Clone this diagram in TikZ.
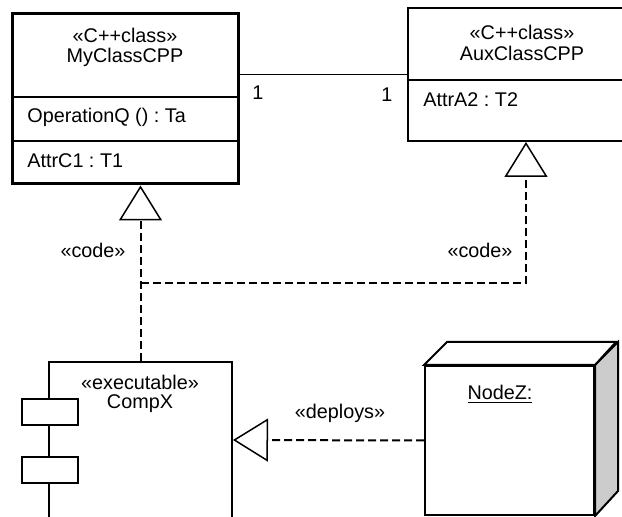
\documentclass[tikz,border=0pt]{standalone}
\usepackage{fontspec}
\setmainfont{Liberation Sans}
\usetikzlibrary{arrows.meta}
\definecolor{sidegray}{gray}{0.8}
\frenchspacing

\begin{document}
\begin{tikzpicture}[x=0.5pt, y=-0.5pt,
    font=\fontsize{9.9}{11}\selectfont,
    box/.style={draw, line width=1pt, fill=white, inner sep=0pt},
    lbl/.style={inner sep=0pt},
    realize/.style={line width=1pt, dash pattern=on 4pt off 2pt,
        -{Triangle[open, length=17.5pt, width=21.5pt, line width=0.75pt]}}]
    \useasboundingbox (0,0) rectangle (622,517);
    \clip (0,0) rectangle (622,517);

    % classes
    \node[box, line width=1.5pt, minimum width=113pt, minimum height=85pt] (myclass) at (125,99) {};
    \draw[line width=0.75pt] (myclass.west |- 0,97) -- (myclass.east |- 0,97);
    \draw[line width=0.75pt] (myclass.west |- 0,141) -- (myclass.east |- 0,141);
    \node[lbl] (mystereo) at (125,35) {«C++class»};
    \node[lbl] (myname) at (125,57) {MyClassCPP};
    \node[lbl, anchor=west] (myop) at (27,117) {OperationQ () : Ta};
    \node[lbl, anchor=west] (myattr) at (27,161) {AttrC1 : T1};

    \node[box, minimum width=114pt, minimum height=66.5pt] (auxclass) at (522,74.5) {};
    \draw[line width=0.75pt] (auxclass.west |- 0,80) -- (auxclass.east |- 0,80);
    \node[lbl] (auxstereo) at (522,32) {«C++class»};
    \node[lbl] (auxname) at (522,53) {AuxClassCPP};
    \node[lbl, anchor=west] (auxattr) at (423,100) {AttrA2 : T2};

    \draw[line width=0.75pt] (myclass.east |- auxclass.west) -- (auxclass.west);
    \node[lbl] (multmy) at (258,93) {1};
    \node[lbl] (multaux) at (387,95) {1};

    % component
    \node[box, minimum width=91.5pt, minimum height=78pt] (compx) at (140.5,440) {};
    \node[box, minimum width=28pt, minimum height=13pt] (portA) at (50,412) {};
    \node[box, minimum width=28pt, minimum height=13pt] (portB) at (50,470) {};
    \node[lbl] (compstereo) at (140,382) {«executable»};
    \node[lbl] (compname) at (140,404) {CompX};

    % node
    \node[box, minimum width=84.5pt, minimum height=74.5pt] (nodez) at (509.5,440.5) {};
    \draw[line width=1pt, fill=sidegray] (nodez.north east) -- ++(23,-23) -- ++(0,149) -- (nodez.south east) -- cycle;
    \draw[line width=1pt, fill=white] (nodez.north west) -- ++(23,-23) -- ++(169,0) -- (nodez.north east) -- cycle;
    \node[lbl] (nodezname) at (500,394) {\underline{NodeZ:}};

    % dependencies
    \coordinate (fork) at (140.5,283);
    \draw[realize] (compx.north) -- (compx.north |- myclass.south);
    \draw[realize] (fork) -| ([xshift=2pt]auxclass.south);
    \draw[realize] (nodez.west) -- (compx.east);
    \node[lbl] (codemy) at (93,250) {«code»};
    \node[lbl] (codeaux) at (480,250) {«code»};
    \node[lbl] (deploys) at (340,413) {«deploys»};
\end{tikzpicture}
\end{document}
